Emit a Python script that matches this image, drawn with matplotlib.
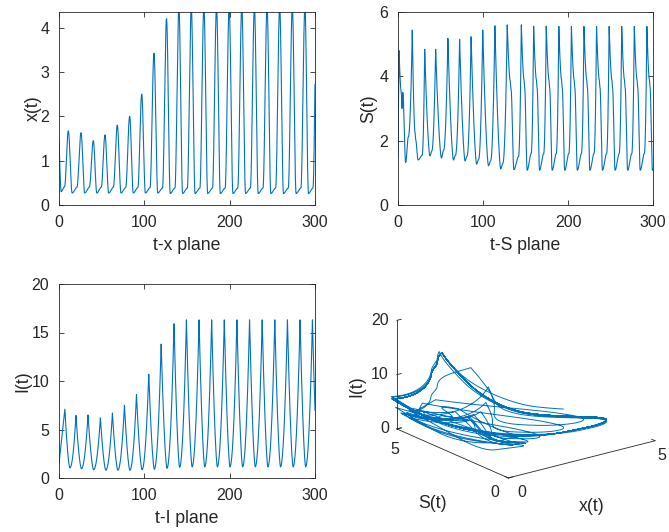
import numpy as np
import matplotlib
matplotlib.use('Agg')
import matplotlib.pyplot as plt
from mpl_toolkits.mplot3d import proj3d

plt.rcParams['font.family'] = ['Liberation Sans', 'DejaVu Sans']

blue = '#0072BD'
dark = '#262626'
W, H = 669, 532

# ---- values ----
# x(t): peak times / heights, trough and pre-rise shoulder after each peak
x_peak_t = [10.9, 25.8, 40.2, 53.9, 68.3, 82.8, 96.9, 111.3, 126.0, 140.5, 155.0,
            169.8, 184.6, 199.4, 214.2, 229.0, 243.8, 258.6, 273.4, 288.2, 302.0]
x_peak_v = [1.67, 1.63, 1.45, 1.58, 1.80, 2.00, 2.50, 3.42, 4.20, 4.45, 4.45,
            4.45, 4.45, 4.45, 4.45, 4.45, 4.45, 4.45, 4.45, 4.45, 4.45]
x_trough_v = [0.27, 0.27, 0.27, 0.27, 0.27, 0.27, 0.27, 0.27, 0.26, 0.26,
              0.26, 0.26, 0.26, 0.26, 0.26, 0.26, 0.26, 0.26, 0.26, 0.26]
x_shoulder_v = [0.40, 0.40, 0.40, 0.40, 0.39, 0.39, 0.39, 0.38, 0.38, 0.38,
                0.38, 0.38, 0.38, 0.38, 0.38, 0.38, 0.38, 0.38, 0.38, 0.38]

# S(t)
S_peak_t = [16.8, 31.4, 44.3, 58.7, 72.5, 86.0, 99.7, 114.0, 128.5, 145.1, 159.6,
            174.4, 189.2, 204.0, 218.8, 233.6, 248.4, 263.2, 278.0, 292.8, 306.6]
S_peak_v = [5.44, 4.84, 4.84, 5.18, 5.15, 5.23, 5.44, 5.57, 5.60, 5.60, 5.56,
            5.56, 5.55, 5.55, 5.55, 5.55, 5.55, 5.55, 5.55, 5.55, 5.55]
S_kink_v = [2.28, None, None, None, None, None, None, None, 3.85, 3.90,
            3.90, 3.90, 3.90, 3.90, 3.90, 3.90, 3.90, 3.90, 3.90, 3.90]
S_trough_v = [1.40, 1.53, 1.46, 1.40, 1.37, 1.27, 1.22, 1.12, 1.10, 1.08,
              1.08, 1.08, 1.08, 1.08, 1.08, 1.08, 1.08, 1.08, 1.08, 1.08]
S_rise_v = [1.55, 1.68, 1.70, 1.55, 1.52, 1.42, 1.37, 1.30, 1.50, 1.60,
            1.60, 1.60, 1.60, 1.60, 1.60, 1.60, 1.60, 1.60, 1.60, 1.60]

# I(t)
I_peak_t = [6.9, 19.9, 34.0, 48.5, 62.6, 76.7, 90.8, 105.2, 119.7, 134.8, 149.3,
            164.1, 178.9, 193.7, 208.5, 223.3, 238.1, 252.9, 267.7, 282.5, 297.0, 311.8]
I_peak_v = [7.1, 6.45, 6.5, 6.2, 6.7, 7.5, 8.6, 10.7, 13.8, 15.9, 16.3,
            16.3, 16.3, 16.3, 16.3, 16.3, 16.3, 16.3, 16.3, 16.3, 16.3, 16.3]
I_trough_v = [1.05, 0.95, 0.85, 0.80, 0.80, 0.80, 0.85, 0.90, 1.00, 1.10,
              1.15, 1.15, 1.15, 1.15, 1.15, 1.15, 1.15, 1.15, 1.15, 1.15, 1.15]


def shape(s, ka, kb, p_fall, p_rise):
    # sharp ends keep a slope, round ends are flat
    if ka == 'round' and kb == 'round':
        return (1 - np.cos(np.pi * s)) / 2
    if ka == 'sharp' and kb == 'round':
        return 1 - (1 - s) ** p_fall
    if ka == 'round' and kb == 'sharp':
        return s ** p_rise
    return s


def wave(knots, t, p_fall, p_rise):
    kt = np.array([kn[0] for kn in knots])
    out = np.full_like(t, np.nan)
    idx = np.clip(np.searchsorted(kt, t, side='right') - 1, 0, len(knots) - 2)
    for i in np.unique(idx):
        (t0, v0, k0), (t1, v1, k1) = knots[i], knots[i + 1]
        m = idx == i
        s = (t[m] - t0) / (t1 - t0)
        out[m] = v0 + (v1 - v0) * shape(s, k0, k1, p_fall, p_rise)
    return out


t = np.linspace(0, 300, 6001)

x_knots = [(0.0, 1.50, 'sharp'), (2.4, 0.30, 'round'), (6.5, 0.41, 'round')]
for k in range(len(x_peak_t) - 1):
    tk, P = x_peak_t[k], x_peak_t[k + 1] - x_peak_t[k]
    x_knots += [(tk, x_peak_v[k], 'round'),
                (tk + 0.30 * P, x_trough_v[k], 'round'),
                (tk + 0.68 * P, x_shoulder_v[k], 'round')]
x_knots.append((x_peak_t[-1], x_peak_v[-1], 'round'))

S_knots = [(0.0, 1.50, 'sharp'), (1.2, 4.80, 'sharp'), (3.8, 3.50, 'round'),
           (4.8, 3.00, 'round'), (5.6, 3.50, 'round'), (9.0, 1.32, 'round'),
           (12.2, 2.12, 'round')]
for k in range(len(S_peak_t) - 1):
    tk, P = S_peak_t[k], S_peak_t[k + 1] - S_peak_t[k]
    S_knots.append((tk, S_peak_v[k], 'sharp'))
    rise_at = 0.65
    if S_kink_v[k] is not None:
        S_knots += [(tk + 0.21 * P, S_kink_v[k], 'round'),
                    (tk + 0.27 * P, S_kink_v[k] - 0.25, 'round')]
        rise_at = 0.80
    S_knots += [(tk + 0.47 * P, S_trough_v[k], 'round'),
                (tk + rise_at * P, S_rise_v[k], 'round')]
S_knots.append((S_peak_t[-1], S_peak_v[-1], 'sharp'))

I_knots = [(0.0, 1.50, 'sharp')]
for k in range(len(I_peak_t) - 1):
    tk, P = I_peak_t[k], I_peak_t[k + 1] - I_peak_t[k]
    I_knots += [(tk, I_peak_v[k], 'sharp'), (tk + 0.45 * P, I_trough_v[k], 'round')]
I_knots.append((I_peak_t[-1], I_peak_v[-1], 'sharp'))

x = wave(x_knots, t, 1.4, 1.4)
S = wave(S_knots, t, 1.6, 2.0)
I = wave(I_knots, t, 1.6, 2.0)

fig = plt.figure(figsize=(W / 100, H / 100), dpi=100)


def px_box(left, top, right, bottom):
    return [left / W, 1 - bottom / H, (right - left) / W, (bottom - top) / H]


def style(ax, xlabel, ylabel, ylim, yticks, ylab_x):
    ax.set_xlim(0, 300)
    ax.set_xticks([0, 100, 200, 300])
    ax.set_ylim(*ylim)
    ax.set_yticks(yticks)
    ax.tick_params(direction='in', top=True, right=True, length=3.5, width=0.6,
                   colors=dark, labelsize=11.5, pad=7)
    for sp in ax.spines.values():
        sp.set_color(dark)
        sp.set_linewidth(0.6)
    ax.set_xlabel(xlabel, fontsize=12.7, color=dark, labelpad=5.5)
    ax.set_ylabel(ylabel, fontsize=12.7, color=dark, va='center')
    ax.yaxis.set_label_coords(ylab_x, 0.5)


ax1 = fig.add_axes(px_box(59, 12, 315, 205))
ax1.plot(t, x, color=blue, lw=0.8)
style(ax1, 't-x plane', 'x(t)', (0, 4.35), [0, 1, 2, 3, 4], -0.10)

ax2 = fig.add_axes(px_box(398, 12, 653, 205))
ax2.plot(t, S, color=blue, lw=0.8)
style(ax2, 't-S plane', 'S(t)', (0, 6), [0, 2, 4, 6], -0.113)

ax3 = fig.add_axes(px_box(59, 284, 315, 478))
ax3.plot(t, I, color=blue, lw=0.8)
style(ax3, 't-I plane', 'I(t)', (0, 20), [0, 5, 10, 15, 20], -0.14)

# ---- 3D phase portrait ----
ax4 = fig.add_axes([0.55, 0.0, 0.45, 0.5], projection='3d')
ax4.set_proj_type('ortho')
ax4.view_init(elev=19.5, azim=-127.2)
ax4.set_box_aspect((1, 1, 0.625))
ax4.set_xlim(0, 5)
ax4.set_ylim(0, 5)
ax4.set_zlim(0, 20)
ax4.set_axis_off()
ax4.set_facecolor('none')

# place the axes so that the box corners land where they are in the reference
corners = np.array([[0, 0, 0], [5, 0, 0], [0, 5, 0], [0, 5, 20]], float)
target = np.array([[508, 478], [655, 441], [397, 429], [397, 320]], float)
target[:, 1] = H - target[:, 1]
u, v, _ = proj3d.proj_transform(corners[:, 0], corners[:, 1], corners[:, 2], ax4.get_proj())
uv = np.column_stack([u, v])
du = uv - uv.mean(0)
dt = target - target.mean(0)
k = (du * dt).sum() / (du ** 2).sum()
c = target.mean(0) - k * uv.mean(0)
vx0, vx1 = ax4.viewLim.intervalx
vy0, vy1 = ax4.viewLim.intervaly
ax4.set_position([(c[0] + k * vx0) / W, (c[1] + k * vy0) / H,
                  k * (vx1 - vx0) / W, k * (vy1 - vy0) / H])

ax4.plot(x, S, I, color=blue, lw=0.7)

# axis lines and ticks
ax4.plot([0, 5], [0, 0], [0, 0], color=dark, lw=0.6)
ax4.plot([0, 0], [0, 5], [0, 0], color=dark, lw=0.6)
ax4.plot([0, 0], [5, 5], [0, 20], color=dark, lw=0.6)
for zt in [0, 10, 20]:
    ax4.plot([0, 0.15], [5, 5], [zt, zt], color=dark, lw=0.6)
for xt in [0, 5]:
    ax4.plot([xt, xt], [0, 0.15], [0, 0], color=dark, lw=0.6)
for st in [0, 5]:
    ax4.plot([0, 0.15], [st, st], [0, 0], color=dark, lw=0.6)


def label3d(xx, yy, zz, s, dx, dy, size=11.5, **kw):
    # project the 3D anchor to figure pixels, then offset in pixels
    pu, pv, _ = proj3d.proj_transform(np.array([xx]), np.array([yy]), np.array([zz]), ax4.get_proj())
    px, py = ax4.transData.transform([[pu[0], pv[0]]])[0]
    fig.text((px + dx) / W, (py + dy) / H, s, fontsize=size, color=dark, **kw)


for zt in [0, 10, 20]:
    label3d(0, 5, zt, str(zt), -8, 0, ha='right', va='center')
label3d(0, 5, 0, '5', -2, -21, ha='center', va='center')
label3d(0, 0, 0, '0', -13, -15, ha='center', va='center')
label3d(0, 0, 0, '0', 14, -15, ha='center', va='center')
label3d(5, 0, 0, '5', 7, -15, ha='center', va='center')
label3d(2.5, 0, 0, 'x(t)', 10, -47, size=12.7, ha='center', va='center')
label3d(0, 2.5, 0, 'S(t)', -20, -50, size=12.7, ha='center', va='center')
label3d(0, 5, 10, 'I(t)', -40, -11, size=12.7, ha='center', va='center', rotation=90)

fig.savefig('out.png', dpi=100)
